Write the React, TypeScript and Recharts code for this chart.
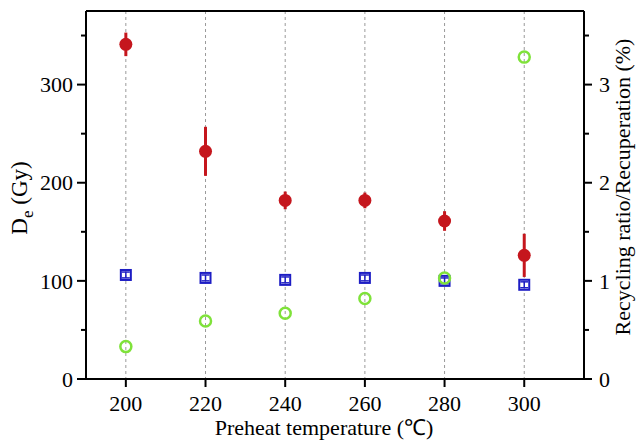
import React from "react";
import {
  ComposedChart,
  Scatter,
  XAxis,
  YAxis,
  CartesianGrid,
  ErrorBar,
  ReferenceLine,
  Label,
} from "recharts";

const temperatures = [200, 220, 240, 260, 280, 300];
const deValues = [341, 232, 182, 182, 161, 126];
const deErrors = [12, 25, 9, 8, 10, 22];
const recyclingRatio = [1.06, 1.03, 1.01, 1.03, 1.0, 0.96];
const recyclingErrors = [0.03, 0.03, 0.03, 0.03, 0.03, 0.03];
const recuperation = [0.33, 0.59, 0.67, 0.82, 1.03, 3.28];

const xTicks = [200, 220, 240, 260, 280, 300];
const leftTicks = [0, 50, 100, 150, 200, 250, 300, 350];
const rightTicks = [0, 0.5, 1, 1.5, 2, 2.5, 3, 3.5];

const deData = temperatures.map((t, i) => ({ t, v: deValues[i], err: deErrors[i] }));
const recData = temperatures.map((t, i) => ({ t, v: recyclingRatio[i], err: recyclingErrors[i] }));
const recupData = temperatures.map((t, i) => ({ t, v: recuperation[i] }));

const FONT = "'Liberation Serif', 'Times New Roman', serif";
const RED = "#c5161d";
const BLUE = "#1d1dc4";
const GREEN = "#7fe23a";

const LeftTick = (props: any) => {
  const { x, y, payload } = props;
  const major = payload.value % 100 === 0;
  return (
    <g>
      <line x1={x - (major ? 9 : 5)} x2={x} y1={y} y2={y} stroke="#000" strokeWidth={2} />
      {major && (
        <text x={x - 13} y={y} dy="0.35em" textAnchor="end" fontFamily={FONT} fontSize={22} fill="#000">
          {payload.value}
        </text>
      )}
    </g>
  );
};

const RightTick = (props: any) => {
  const { x, y, payload } = props;
  const major = Number.isInteger(payload.value);
  return (
    <g>
      <line x1={x} x2={x + (major ? 8 : 5)} y1={y} y2={y} stroke="#000" strokeWidth={2} />
      {major && (
        <text x={x + 15} y={y} dy="0.35em" textAnchor="start" fontFamily={FONT} fontSize={22} fill="#000">
          {payload.value}
        </text>
      )}
    </g>
  );
};

const BottomTick = (props: any) => {
  const { x, y, payload } = props;
  return (
    <g>
      <line x1={x} x2={x} y1={y} y2={y + 8} stroke="#000" strokeWidth={2} />
      <text x={x} y={y + 32} textAnchor="middle" fontFamily={FONT} fontSize={22} fill="#000">
        {payload.value}
      </text>
    </g>
  );
};

const RedDot = (props: any) => {
  const { cx, cy } = props;
  return <circle cx={cx} cy={cy} r={6.5} fill={RED} />;
};

const BlueSquare = (props: any) => {
  const { cx, cy } = props;
  return <rect x={cx - 5} y={cy - 5} width={10} height={10} fill="none" stroke={BLUE} strokeWidth={2} />;
};

const GreenCircle = (props: any) => {
  const { cx, cy } = props;
  return <circle cx={cx} cy={cy} r={5.5} fill="none" stroke={GREEN} strokeWidth={2.5} />;
};

const LeftLabel = () => {
  const cx = 19;
  const cy = 198;
  return (
    <text
      x={cx}
      y={cy}
      transform={`rotate(-90, ${cx}, ${cy})`}
      textAnchor="middle"
      dy="0.35em"
      fontFamily={FONT}
      fontSize={23}
      fill="#000"
    >
      <tspan>D</tspan>
      <tspan dy={6} fontSize={17}>e</tspan>
      <tspan dy={-6}> (Gy)</tspan>
    </text>
  );
};

const RightLabel = () => {
  const cx = 622;
  const cy = 187;
  return (
    <text
      x={cx}
      y={cy}
      transform={`rotate(-90, ${cx}, ${cy})`}
      textAnchor="middle"
      dy="0.35em"
      fontFamily={FONT}
      fontSize={22}
      fill="#000"
    >
      Recycling ratio/Recuperation (%)
    </text>
  );
};

const BottomLabel = () => {
  return (
    <text x={324} y={435} textAnchor="middle" fontFamily={FONT} fontSize={22} fill="#000">
      Preheat temperature (℃)
    </text>
  );
};

export default function App() {
  return (
    <div style={{ position: "fixed", left: 0, top: 0, width: 636, height: 442, background: "#fff" }}>
      <ComposedChart
        width={636}
        height={442}
        margin={{ top: 11, right: 8, bottom: 8, left: 16 }}
      >
        <CartesianGrid
          horizontal={false}
          vertical={true}
          yAxisId="left"
          stroke="#9a9a9a"
          strokeDasharray="3 3"
          strokeWidth={1}
        />
        <XAxis
          dataKey="t"
          type="number"
          domain={[190, 315]}
          ticks={xTicks}
          allowDataOverflow
          height={55}
          stroke="#000"
          strokeWidth={2}
          tickLine={false}
          tickSize={0}
          tickMargin={0}
          tick={<BottomTick />}
          interval={0}
        >
          <Label content={<BottomLabel />} />
        </XAxis>
        <YAxis
          yAxisId="left"
          orientation="left"
          type="number"
          domain={[0, 375]}
          ticks={leftTicks}
          allowDataOverflow
          width={70}
          stroke="#000"
          strokeWidth={2}
          tickLine={false}
          tickSize={0}
          tickMargin={0}
          tick={<LeftTick />}
          interval={0}
        >
          <Label content={<LeftLabel />} />
        </YAxis>
        <YAxis
          yAxisId="right"
          orientation="right"
          type="number"
          domain={[0, 3.75]}
          ticks={rightTicks}
          allowDataOverflow
          width={44}
          stroke="#000"
          strokeWidth={2}
          tickLine={false}
          tickSize={0}
          tickMargin={0}
          tick={<RightTick />}
          interval={0}
        >
          <Label content={<RightLabel />} />
        </YAxis>
        <ReferenceLine yAxisId="left" y={375} stroke="#000" strokeWidth={2} ifOverflow="visible" />
        <Scatter
          yAxisId="right"
          data={recData}
          dataKey="v"
          shape={<BlueSquare />}
          isAnimationActive={false}
        >
          <ErrorBar dataKey="err" direction="y" width={4} stroke={BLUE} strokeWidth={1.5} />
        </Scatter>
        <Scatter
          yAxisId="right"
          data={recupData}
          dataKey="v"
          shape={<GreenCircle />}
          isAnimationActive={false}
        />
        <Scatter
          yAxisId="left"
          data={deData}
          dataKey="v"
          shape={<RedDot />}
          isAnimationActive={false}
        >
          <ErrorBar dataKey="err" direction="y" width={0} stroke={RED} strokeWidth={3} />
        </Scatter>
      </ComposedChart>
    </div>
  );
}
